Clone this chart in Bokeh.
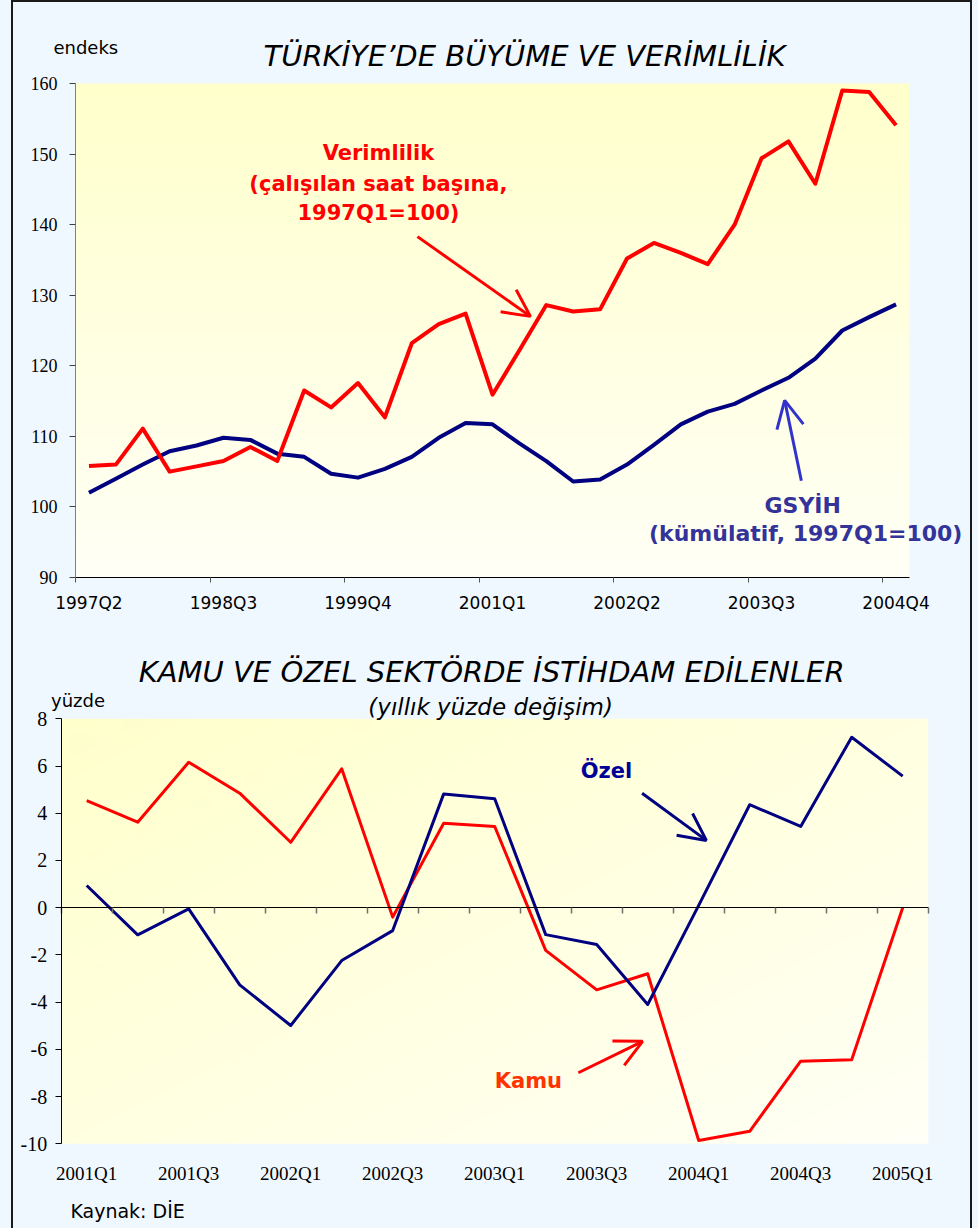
import numpy as np
from bokeh.plotting import figure
from bokeh.models import Range1d, FixedTicker, Label, Arrow, OpenHead, LinearAxis
from bokeh.layouts import column
from bokeh.embed import file_html
from bokeh.resources import INLINE

# ---------------- data ----------------
quarters_top = ["1997Q2", "1997Q3", "1997Q4", "1998Q1", "1998Q2", "1998Q3", "1998Q4",
                "1999Q1", "1999Q2", "1999Q3", "1999Q4", "2000Q1", "2000Q2", "2000Q3",
                "2000Q4", "2001Q1", "2001Q2", "2001Q3", "2001Q4", "2002Q1", "2002Q2",
                "2002Q3", "2002Q4", "2003Q1", "2003Q2", "2003Q3", "2003Q4", "2004Q1",
                "2004Q2", "2004Q3", "2004Q4"]
verimlilik = [105.8, 106.0, 111.1, 105.0, 105.75, 106.5, 108.5, 106.5, 116.5, 114.1,
              117.55, 112.7, 123.2, 125.9, 127.4, 115.9, 122.2, 128.6, 127.7, 128.0,
              135.2, 137.4, 136.0, 134.4, 140.0, 149.4, 151.8, 145.8, 159.0, 158.8, 154.1]
gsyih = [102.0, 104.0, 106.0, 107.9, 108.7, 109.8, 109.5, 107.55, 107.1, 104.7,
         104.15, 105.4, 107.1, 109.8, 111.9, 111.7, 109.0, 106.5, 103.6, 103.9,
         106.0, 108.8, 111.7, 113.5, 114.6, 116.5, 118.3, 121.0, 125.0, 126.9, 128.7]
y_ticks_top = [90, 100, 110, 120, 130, 140, 150, 160]

quarters_bot = ["2001Q1", "2001Q2", "2001Q3", "2001Q4", "2002Q1", "2002Q2", "2002Q3",
                "2002Q4", "2003Q1", "2003Q2", "2003Q3", "2003Q4", "2004Q1", "2004Q2",
                "2004Q3", "2004Q4", "2005Q1"]
kamu = [4.53, 3.62, 6.16, 4.85, 2.77, 5.88, -0.40, 3.58, 3.44, -1.81, -3.48, -2.80,
        -9.86, -9.47, -6.50, -6.44, 0.0]
ozel = [0.94, -1.15, -0.05, -3.27, -4.99, -2.24, -0.97, 4.82, 4.61, -1.14, -1.56,
        -4.10, 0.1, 4.36, 3.44, 7.22, 5.57]
y_ticks_bot = [-10, -8, -6, -4, -2, 0, 2, 4, 6, 8]

# ---------------- styling ----------------
BG = "#F0F8FF"
RED = "#FF0000"
NAVY = "#000080"
FRAME = "#1a1a1a"
SERIF = "Liberation Serif"
SANS = "DejaVu Sans"
W = 957   # inner width between the two side borders


def geometry(W, H, box, x0, x1, y0, y1):
    """Ranges so that the data box (x0..x1, y0..y1) lands on pixel box (l, r, t, b)."""
    l, r, t, b = box
    fx = lambda px: x0 + (px - l) * (x1 - x0) / (r - l)
    fy = lambda py: y1 - (py - t) * (y1 - y0) / (b - t)
    return Range1d(fx(0), fx(W)), Range1d(fy(H), fy(0))


def gradient(nx, ny, diagonal):
    top = np.array([255, 255, 204], dtype=float)
    bot = np.array([255, 255, 246], dtype=float)
    u = np.linspace(0, 1, nx)[None, :]
    v = np.linspace(0, 1, ny)[:, None]  # row 0 = bottom
    if diagonal:
        t = (u + (1 - v)) / 2.0
    else:
        t = (1 - v) * np.ones_like(u)
    rgb = top[None, None, :] * (1 - t[..., None]) + bot[None, None, :] * t[..., None]
    img = np.empty((ny, nx, 4), dtype=np.uint8)
    img[..., :3] = rgb.astype(np.uint8)
    img[..., 3] = 255
    return img.view(dtype=np.uint32).reshape((ny, nx))


def label(p, x, y, text, size, color="black", style="normal", font=SANS, align="center"):
    p.add_layout(Label(x=x, y=y, text=text, text_font=font, text_font_size=f"{size}px",
                       text_color=color, text_font_style=style, text_align=align,
                       text_baseline="middle"))


def arrow(p, x0, y0, x1, y1, color):
    p.add_layout(Arrow(end=OpenHead(size=27, line_color=color, line_width=3),
                       x_start=x0, y_start=y0, x_end=x1, y_end=y1,
                       line_color=color, line_width=3))


def base_figure(H, xr, yr):
    p = figure(width=W, height=H, x_range=xr, y_range=yr, output_backend="svg",
               toolbar_location=None, min_border=0, min_border_left=0,
               min_border_right=0, min_border_top=0, min_border_bottom=0)
    p.background_fill_color = BG
    p.border_fill_color = BG
    p.outline_line_color = None
    p.grid.visible = False
    return p


# ---------------- top chart ----------------
n1 = len(quarters_top)
H1 = 628
xr1, yr1 = geometry(W, H1, (62, 896, 81, 575), -0.5, n1 - 0.5,
                    y_ticks_top[0], y_ticks_top[-1])
p1 = base_figure(H1, xr1, yr1)
p1.image_rgba(image=[gradient(2, 256, False)], x=-0.5, y=y_ticks_top[0],
              dw=n1, dh=y_ticks_top[-1] - y_ticks_top[0])

x1 = list(range(n1))
p1.line(x1, gsyih, line_color=NAVY, line_width=4, line_join="round")
p1.line(x1, verimlilik, line_color=RED, line_width=4, line_join="round")

lab_idx = list(range(0, n1, 5))
xa = p1.xaxis[0]
xa.fixed_location = y_ticks_top[0]
xa.bounds = (-0.5, n1 - 0.5)
xa.ticker = FixedTicker(ticks=lab_idx, minor_ticks=[i - 0.5 for i in lab_idx])
xa.major_label_overrides = {i: quarters_top[i] for i in lab_idx}
xa.major_tick_out = 0
xa.major_tick_in = 0
xa.minor_tick_out = 5
xa.minor_tick_in = 0
xa.minor_tick_line_color = "#555555"
xa.axis_line_color = "black"
xa.major_label_standoff = 10
xa.major_label_text_font = SANS
xa.major_label_text_font_size = "17px"
xa.major_label_text_color = "black"

ya = p1.yaxis[0]
ya.fixed_location = -0.5
ya.bounds = (y_ticks_top[0], y_ticks_top[-1])
ya.ticker = FixedTicker(ticks=y_ticks_top)
ya.major_tick_out = 6
ya.major_tick_in = 0
ya.minor_tick_line_color = None
ya.axis_line_color = "#808080"
ya.major_tick_line_color = "#404040"
ya.major_label_standoff = 12
ya.major_label_text_font = SERIF
ya.major_label_text_font_size = "18px"
ya.major_label_text_color = "black"

label(p1, 16.19, 163.83, "TÜRKİYE’DE BÜYÜME VE VERİMLİLİK", 29, style="italic")
label(p1, -1.32, 165.1, "endeks", 18, align="left")
label(p1, 10.76, 150.1, "Verimlilik", 21, RED, "bold")
label(p1, 10.76, 145.8, "(çalışılan saat başına,", 21, RED, "bold")
label(p1, 10.76, 141.7, "1997Q1=100)", 21, RED, "bold")
label(p1, 26.53, 100.2, "GSYİH", 22, "#333399", "bold")
label(p1, 26.64, 96.2, "(kümülatif, 1997Q1=100)", 22, "#333399", "bold")
arrow(p1, 12.21, 138.3, 16.41, 127.0, RED)
arrow(p1, 26.48, 103.7, 25.86, 115.1, "#3333CC")

# ---------------- bottom chart ----------------
n2 = len(quarters_bot)
H2 = 598
xr2, yr2 = geometry(W, H2, (47.7, 914.7, 88.3, 513.3), -0.5, n2 - 0.5,
                    y_ticks_bot[0], y_ticks_bot[-1])
p2 = base_figure(H2, xr2, yr2)
p2.image_rgba(image=[gradient(128, 128, True)], x=-0.5, y=y_ticks_bot[0],
              dw=n2, dh=y_ticks_bot[-1] - y_ticks_bot[0])

x2 = list(range(n2))
p2.line(x2, kamu, line_color=RED, line_width=3, line_join="round")
p2.line(x2, ozel, line_color=NAVY, line_width=3, line_join="round")

lab2 = list(range(0, n2, 2))
xb = p2.xaxis[0]
xb.fixed_location = y_ticks_bot[0]
xb.ticker = FixedTicker(ticks=lab2)
xb.major_label_overrides = {i: quarters_bot[i] for i in lab2}
xb.axis_line_color = None
xb.major_tick_line_color = None
xb.minor_tick_line_color = None
xb.major_label_standoff = 13
xb.major_label_text_font = SERIF
xb.major_label_text_font_size = "19px"
xb.major_label_text_color = "black"

zero_axis = LinearAxis(fixed_location=0, bounds=(-0.5, n2 - 0.5),
                       ticker=FixedTicker(ticks=[i - 0.5 for i in range(n2 + 1)]),
                       major_tick_out=6, major_tick_in=0,
                       major_tick_line_color="#707070", major_tick_line_width=1.5,
                       minor_tick_line_color=None, axis_line_color="black",
                       major_label_text_font_size="0px", major_label_text_alpha=0)
p2.add_layout(zero_axis, "below")

yb = p2.yaxis[0]
yb.fixed_location = -0.5
yb.bounds = (y_ticks_bot[0], y_ticks_bot[-1])
yb.ticker = FixedTicker(ticks=y_ticks_bot)
yb.major_label_overrides = {v: str(v) for v in y_ticks_bot}
yb.major_tick_out = 6
yb.major_tick_in = 0
yb.minor_tick_line_color = None
yb.axis_line_color = "black"
yb.major_tick_line_color = "black"
yb.major_label_standoff = 8
yb.major_label_text_font = SERIF
yb.major_label_text_font_size = "20px"
yb.major_label_text_color = "black"

label(p2, 7.94, 9.98, "KAMU VE ÖZEL SEKTÖRDE İSTİHDAM EDİLENLER", 29, style="italic")
label(p2, 7.92, 8.48, "(yıllık yüzde değişim)", 23, style="italic")
label(p2, -0.70, 8.78, "yüzde", 18, align="left")
label(p2, -0.32, -12.83, "Kaynak: DİE", 19, align="left")
label(p2, 10.19, 5.81, "Özel", 21, "#000099", "bold")
label(p2, 8.66, -7.36, "Kamu", 21, "#FF3300", "bold")
arrow(p2, 10.89, 4.85, 12.15, 2.85, NAVY)
arrow(p2, 9.64, -6.99, 10.90, -5.66, RED)

inner = column(p1, p2, styles={"border-top": f"2px solid {FRAME}",
                               "border-left": f"2px solid {FRAME}",
                               "border-right": f"2px solid {FRAME}",
                               "background-color": BG})
layout = column(inner, styles={"background-color": BG, "padding-left": "11px",
                               "padding-right": "6px"})
open("out.html", "w").write(file_html(layout, INLINE))
